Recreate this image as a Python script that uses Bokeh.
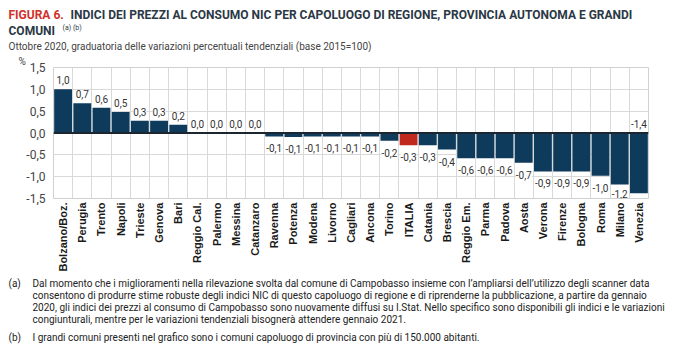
import numpy as np
from bokeh.plotting import figure
from bokeh.layouts import column, row
from bokeh.models import ColumnDataSource, Range1d, FixedTicker, LabelSet, Label, Span, Title
from bokeh.core.properties import value
from bokeh.embed import file_html
from bokeh.resources import INLINE

cities = ["Bolzano/Boz.", "Perugia", "Trento", "Napoli", "Trieste", "Genova", "Bari",
          "Reggio Cal.", "Palermo", "Messina", "Catanzaro", "Ravenna", "Potenza", "Modena",
          "Livorno", "Cagliari", "Ancona", "Torino", "ITALIA", "Catania", "Brescia",
          "Reggio Em.", "Parma", "Padova", "Aosta", "Verona", "Firenze", "Bologna",
          "Roma", "Milano", "Venezia"]
values = [1.0, 0.68, 0.58, 0.48, 0.28, 0.28, 0.19,
          0.0, 0.0, 0.0, 0.0, -0.08, -0.09, -0.08,
          -0.08, -0.08, -0.08, -0.18, -0.28, -0.28, -0.38,
          -0.58, -0.58, -0.58, -0.68, -0.88, -0.88, -0.88,
          -0.98, -1.18, -1.38]
highlight = "ITALIA"
y_ticks = [-1.5, -1.0, -0.5, 0.0, 0.5, 1.0, 1.5]

NAVY = "#0e3a5c"
RED = "#c0281e"
FONT = "Roboto"
W, H = 675, 353
HEAD_H = 52
MAIN_BOTTOM = 274
FOOT_H = H - MAIN_BOTTOM
MAIN_H = MAIN_BOTTOM - HEAD_H

n = len(cities)
xs = np.arange(n) + 0.5
colors = [RED if c == highlight else NAVY for c in cities]
txt = [f"{v:.1f}".replace(".", ",") for v in values]

src = ColumnDataSource(dict(x=xs, top=values, color=colors, name=cities, label=txt))

# ---------------- main chart ----------------
p = figure(width=W, height=MAIN_H, output_backend="svg", toolbar_location=None,
           x_range=Range1d(0, n), y_range=Range1d(y_ticks[0], y_ticks[-1]),
           min_border_left=53, min_border_right=27, min_border_top=0, min_border_bottom=76)
p.title = Title(text="%", align="left", offset=-35, text_font=FONT, text_font_size="10px",
                text_font_style="normal", text_color="#444444", standoff=2)
p.outline_line_color = "#d0d0d0"
p.background_fill_color = "white"
p.border_fill_color = "white"

p.vbar(x="x", top="top", bottom=0, width=0.93, fill_color="color", line_color=None, source=src)
p.add_layout(Span(location=0, dimension="width", line_color="#1b2630", line_width=2))

p.xgrid.ticker = FixedTicker(ticks=list(range(n + 1)))
p.xgrid.grid_line_color = "#d9d9d9"
p.ygrid.ticker = FixedTicker(ticks=y_ticks)
p.ygrid.grid_line_color = "#d9d9d9"

p.xaxis.ticker = FixedTicker(ticks=list(xs))
p.xaxis.major_label_overrides = {float(x): c for x, c in zip(xs, cities)}
p.xaxis.major_label_orientation = np.pi / 2
p.xaxis.axis_line_color = None
p.xaxis.major_tick_line_color = None
p.xaxis.minor_tick_line_color = None
p.xaxis.major_tick_out = 0
p.xaxis.major_tick_in = 0
p.xaxis.major_label_standoff = 4
p.xaxis.major_label_text_font = "Liberation Sans"
p.xaxis.major_label_text_font_style = "bold"
p.xaxis.major_label_text_font_size = "11px"
p.xaxis.major_label_text_color = "#1a1a1a"

p.yaxis.ticker = FixedTicker(ticks=y_ticks)
p.yaxis.major_label_overrides = {t: f"{t:.1f}".replace(".", ",") for t in y_ticks}
p.yaxis.axis_line_color = None
p.yaxis.major_tick_line_color = None
p.yaxis.minor_tick_line_color = None
p.yaxis.major_tick_out = 0
p.yaxis.major_tick_in = 0
p.yaxis.major_label_standoff = 8
p.yaxis.major_label_text_font = FONT
p.yaxis.major_label_text_font_size = "12px"
p.yaxis.major_label_text_color = "#444444"

# value labels: above bars (or above zero), below bars, or clamped at the axis bottom
up_i = [i for i, v in enumerate(values) if v >= 0 or v < -1.3]
dn_i = [i for i, v in enumerate(values) if -1.1 <= v < 0]
cl_i = [i for i, v in enumerate(values) if -1.3 <= v < -1.1]
def sub(idx, ys):
    return ColumnDataSource(dict(x=[xs[i] for i in idx], y=ys, label=[txt[i] for i in idx]))
common = dict(text_font=value(FONT), text_font_size=value("10px"), text_color="#333333",
              text_align="center", background_fill_color="white", level="overlay")
p.add_layout(LabelSet(x="x", y="y", text="label", source=sub(up_i, [max(values[i], 0) for i in up_i]),
                      text_baseline="bottom", y_offset=5, **common))
p.add_layout(LabelSet(x="x", y="y", text="label", source=sub(dn_i, [values[i] for i in dn_i]),
                      text_baseline="top", y_offset=-8, **common))
p.add_layout(LabelSet(x="x", y="y", text="label", source=sub(cl_i, [y_ticks[0]] * len(cl_i)),
                      text_baseline="bottom", y_offset=1, **common))

# ---------------- header and footer (pixel coordinates) ----------------
def text_panel(height):
    f = figure(width=W, height=height, output_backend="svg", toolbar_location=None,
               x_range=Range1d(0, W), y_range=Range1d(height, 0),
               x_axis_type=None, y_axis_type=None, min_border=0,
               min_border_left=0, min_border_right=0, min_border_top=0, min_border_bottom=0)
    f.outline_line_color = None
    f.background_fill_color = "white"
    f.border_fill_color = "white"
    return f

def add_text(f, x, y, text, size, color, style="normal"):
    f.add_layout(Label(x=x, y=y, text=text, text_font=FONT, text_font_size=size,
                       text_color=color, text_font_style=style, text_baseline="middle"))

head = text_panel(HEAD_H)
add_text(head, 8, 14, "FIGURA 6.", "12px", "#d0312d", "bold")
add_text(head, 70, 14, "INDICI DEI PREZZI AL CONSUMO NIC PER CAPOLUOGO DI REGIONE, PROVINCIA AUTONOMA E GRANDI",
         "12px", "#2b3845", "bold")
add_text(head, 8, 30, "COMUNI", "12px", "#2b3845", "bold")
add_text(head, 62, 27, "(a) (b)", "7px", "#2b3845")
add_text(head, 8, 46, "Ottobre 2020, graduatoria delle variazioni percentuali tendenziali (base 2015=100)",
         "10px", "#444444")

foot = text_panel(FOOT_H)
notes_a = ["Dal momento che i miglioramenti nella rilevazione svolta dal comune di Campobasso insieme con l\u2019ampliarsi dell\u2019utilizzo degli scanner data",
           "consentono di produrre stime robuste degli indici NIC di questo capoluogo di regione e di riprenderne la pubblicazione, a partire da gennaio",
           "2020, gli indici dei prezzi al consumo di Campobasso sono nuovamente diffusi su I.Stat. Nello specifico sono disponibili gli indici e le variazioni",
           "congiunturali, mentre per le variazioni tendenziali bisogner\u00e0 attendere gennaio 2021."]
note_b = "I grandi comuni presenti nel grafico sono i comuni capoluogo di provincia con pi\u00f9 di 150.000 abitanti."
add_text(foot, 8, 283 - MAIN_BOTTOM, "(a)", "10px", "#222222")
for k, line in enumerate(notes_a):
    add_text(foot, 32, 283 - MAIN_BOTTOM + 12 * k, line, "10px", "#222222")
add_text(foot, 8, 337 - MAIN_BOTTOM, "(b)", "10px", "#222222")
add_text(foot, 32, 337 - MAIN_BOTTOM, note_b, "10px", "#222222")

layout = column(row(head), p, row(foot), spacing=0)
open("out.html", "w").write(file_html(layout, INLINE))
